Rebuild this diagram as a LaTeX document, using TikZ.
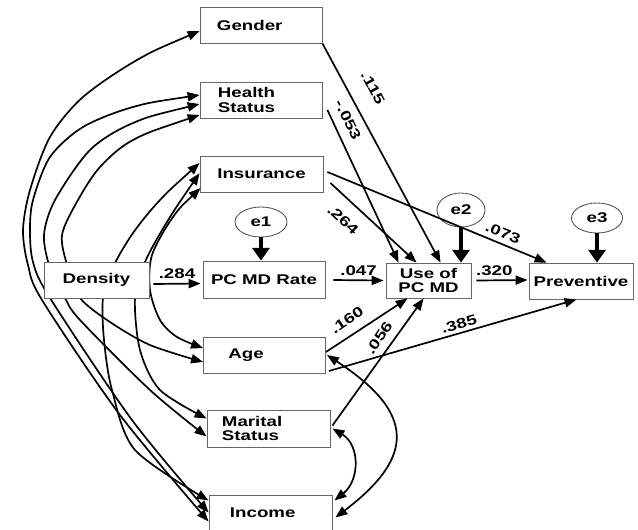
\documentclass[tikz,border=0pt]{standalone}
\usepackage{fontspec}
\newfontfamily\lab{Liberation Sans}[FakeStretch=1.33]
\usepackage{tikz}
\usetikzlibrary{positioning,arrows.meta,shapes,calc}

\begin{document}
\begin{tikzpicture}[x=0.025cm, y=-0.025cm,
    varbox/.style={draw=black!60, line width=0.6pt, fill=white, font={\fontsize{10}{10.6}\lab\bfseries}, minimum height=0.9cm, inner ysep=1pt},
    errnode/.style={draw=black!70, line width=0.6pt, ellipse, font={\fontsize{10}{11}\lab\bfseries}, minimum height=0.75cm, inner sep=0pt},
    effect/.style={line width=1.2pt, -{Triangle[length=8.5pt,width=6.5pt]}},
    corr/.style={line width=1.2pt, {Triangle[length=8.5pt,width=6.5pt]}-{Triangle[length=8.5pt,width=6.5pt]}},
    errarrow/.style={line width=2.6pt, -{Triangle[length=9pt,width=12pt]}},
    coef/.style={font={\fontsize{10}{11}\lab\bfseries}, inner sep=0pt}]
    \useasboundingbox (0,0) rectangle (638,529);

    % Exogenous variables
    \node[varbox, inner xsep=0.425cm, text width=2.2cm, align=left] (gender) at (261,25) {Gender};
    \node[varbox, inner xsep=0.45cm, text width=2.15cm, align=left] (health) at (261,100) {Health\\Status};
    \node[varbox, minimum width=3.075cm] (insur) at (261.5,174) {Insurance};
    \node[varbox, inner xsep=0.625cm, text width=1.8cm, align=left] (age) at (264.5,355) {Age};
    \node[varbox, minimum height=0.925cm, inner xsep=0.375cm, text width=2.325cm, align=left] (marital) at (268.5,428.5) {Marital\\Status};
    \node[varbox, minimum height=0.875cm, inner xsep=0.525cm, text width=2.025cm, align=left] (income) at (270.5,512.5) {Income};

    % Endogenous variables and errors
    \node[varbox, minimum width=3.05cm, minimum height=0.925cm] (rate) at (264,279.5) {PC MD Rate};
    \node[varbox, minimum width=2.125cm, minimum height=0.875cm, align=center] (use) at (428.5,280.5) {Use of\\[-1pt]PC MD};
    \node[varbox, minimum width=2.6cm] (prev) at (581,281) {Preventive};
    \node[errnode, minimum width=1.3cm] (e1) at (261,222) {e1};
    \node[errnode, minimum width=1.2cm, minimum height=0.85cm] (e2) at (461,210) {e2};
    \node[errnode, minimum width=1.275cm] (e3) at (597,218) {e3};

    \draw[errarrow] (e1) -- (e1 |- rate.north);
    \draw[errarrow] (e2) -- (e2 |- use.north);
    \draw[errarrow] (e3) -- (e3 |- prev.north);

    % Correlations on the left
    \draw[corr] plot[smooth] coordinates {($(gender.west)+(0,6)$) (137,60) (83,97) (50,137) (30,190) (23,230) (28,265) (42,300) (120,415) ($(income.west)+(0,9)$)};
    \draw[corr] plot[smooth] coordinates {($(health.west)+(0,-5)$) (133,107) (83,127) (50,157) (33,200) (30,230) (33,262) (50,298) (132,420) ($(income.west)+(0,0)$)};
    \draw[corr] plot[smooth] coordinates {($(health.west)+(0,4)$) (133,123) (90,150) (55,200) (44,235) (50,268) (65,298) (80,320) (150,390) ($(marital.west)+(0,8)$)};
    \draw[corr] plot[smooth] coordinates {($(health.west)+(0,15)$) (133,140) (100,167) (78,200) (62,235) (68,268) (80,298) (110,322) (150,345) ($(age.west)+(0,7)$)};
    \draw[corr] plot[smooth] coordinates {($(insur.west)+(0,-11)$) (160,200) (133,233) (113,267) (103,298) (104,340) (112,390) (135,450) ($(income.west)+(0,-12)$)};
    \draw[corr] plot[smooth] coordinates {($(insur.west)+(0,-1)$) (167,222) (145,262) (135,298) (140,350) (160,390) ($(marital.west)+(0,-10)$)};
    \draw[corr] plot[smooth] coordinates {($(insur.west)+(1,14)$) (173,217) (152,255) (150,290) (160,320) (177,337) ($(age.west)+(0,-7)$)};

    % Density on top of the curves
    \node[varbox, minimum width=2.625cm] (density) at (96.5,280) {Density};

    % Correlations on the right
    \draw[corr] ($(age.east)+(1,0)$) .. controls (416,413) and (415,457) .. ($(income.east)+(3,5)$);
    \draw[corr] ($(marital.east)+(2,0)$) .. controls (360,445) and (360,480) .. ($(income.east)+(2,-12)$);

    % Direct effects
    \draw[effect] ($(density.east)+(4,4)$) -- node[coef, above=3pt] {.284} ($(rate.west)+(-2,4)$);
    \draw[effect] ($(rate.east)+(8,0.5)$) -- node[coef, above=3pt] {.047} ($(use.west)+(-2,0)$);
    \draw[effect] ($(use.east)+(5,0)$) -- node[coef, above=3pt, pos=0.35] {.320} ($(prev.west)+(-1,-1)$);
    \draw[effect] (gender.south east) -- ($(use.north west)+(55,0)$) node[coef, rotate=-62] at (373,88) {.115};
    \draw[effect] ($(health.east)+(5,10)$) -- ($(use.north west)+(13,0)$) node[coef, rotate=-64] at (348,120) {-.053};
    \draw[effect] ($(insur.east)+(7,9)$) -- ($(use.north west)+(31,0)$) node[coef, rotate=-43] at (343,220) {.264};
    \draw[effect] ($(insur.east)+(4,-2)$) -- ($(prev.north west)+(18,0)$) node[coef, rotate=-22] at (503,233) {.073};
    \draw[effect] ($(age.east)+(0,-3)$) -- ($(use.south west)+(22,0)$) node[coef, rotate=34] at (347,320) {.160};
    \draw[effect] ($(marital.east)+(2,-3)$) -- ($(use.south west)+(38,0)$) node[coef, rotate=56] at (379,338) {.056};
    \draw[effect] ($(age.east)+(3,16)$) -- ($(prev.south west)+(48,0)$) node[coef, rotate=16] at (459,324) {.385};
\end{tikzpicture}
\end{document}
